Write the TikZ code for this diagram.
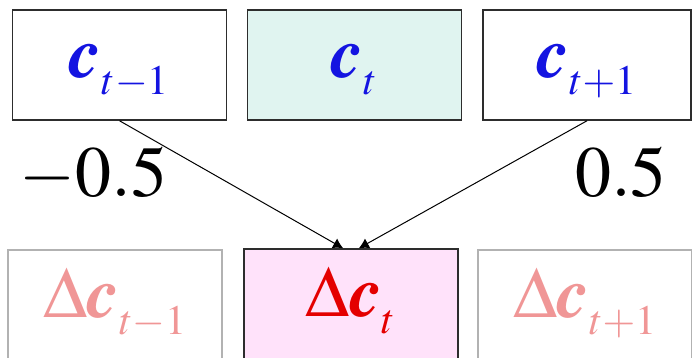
\documentclass[tikz,border=0pt]{standalone}
\usepackage[T1]{fontenc}
\usepackage{mathptmx}
\usetikzlibrary{arrows.meta}
\DeclareMathSizes{72}{72}{42}{30}
\definecolor{cblue}{RGB}{20,20,225}
\definecolor{cred}{RGB}{228,0,0}
\definecolor{cpale}{RGB}{240,150,150}
\definecolor{ccyan}{RGB}{224,244,240}
\definecolor{cpink}{RGB}{255,226,250}
\definecolor{cframe}{RGB}{45,45,45}
\definecolor{cgrey}{RGB}{178,178,178}
\newcommand{\bc}{\textbf{\textit{c}}}
\newcommand{\sub}[1]{_{\raisebox{-7pt}{$\scriptstyle #1$}}}
\tikzset{
  box/.style={rectangle,minimum width=214pt,minimum height=110pt,line width=1.5pt,
    inner sep=0pt,text height=30pt,text depth=6pt,font=\fontsize{72}{72}\selectfont},
  topbox/.style={box,draw=cframe,text=cblue},
  dbox/.style={box,draw=cgrey,text=cpale},
  weight/.style={font=\fontsize{72}{72}\selectfont,inner sep=0pt}
}
\begin{document}
\begin{tikzpicture}[x=1pt,y=-1pt]
  \useasboundingbox (0,0) rectangle (692,357);
  \node[topbox] (cm) at (119.5,65) {$\bc\sub{t{-}1}$};
  \node[topbox,fill=ccyan] (c) at (354.5,65) {$\bc\sub{t}$};
  \node[topbox,minimum width=208pt] (cp) at (587,65) {$\bc\sub{t{+}1}$};
  \node[dbox] (dcm) at (115,305) {$\Delta\bc\sub{t{-}1}$};
  \node[dbox,draw=cframe,fill=cpink,text=cred] (dc) at (351,304) {$\Delta\bc\sub{t}$};
  \node[dbox] (dcp) at (585,305) {$\Delta\bc\sub{t{+}1}$};
  \node[weight] (wm) at (93.5,175) {$-0.5$};
  \node[weight] (wp) at (621,172) {$0.5$};
  \draw[-{Latex[length=10pt,width=11pt]},line width=1pt] (cm.south) -- (dc.98);
  \draw[-{Latex[length=10pt,width=11pt]},line width=1pt] (cp.south) -- (dc.82);
\end{tikzpicture}
\end{document}
